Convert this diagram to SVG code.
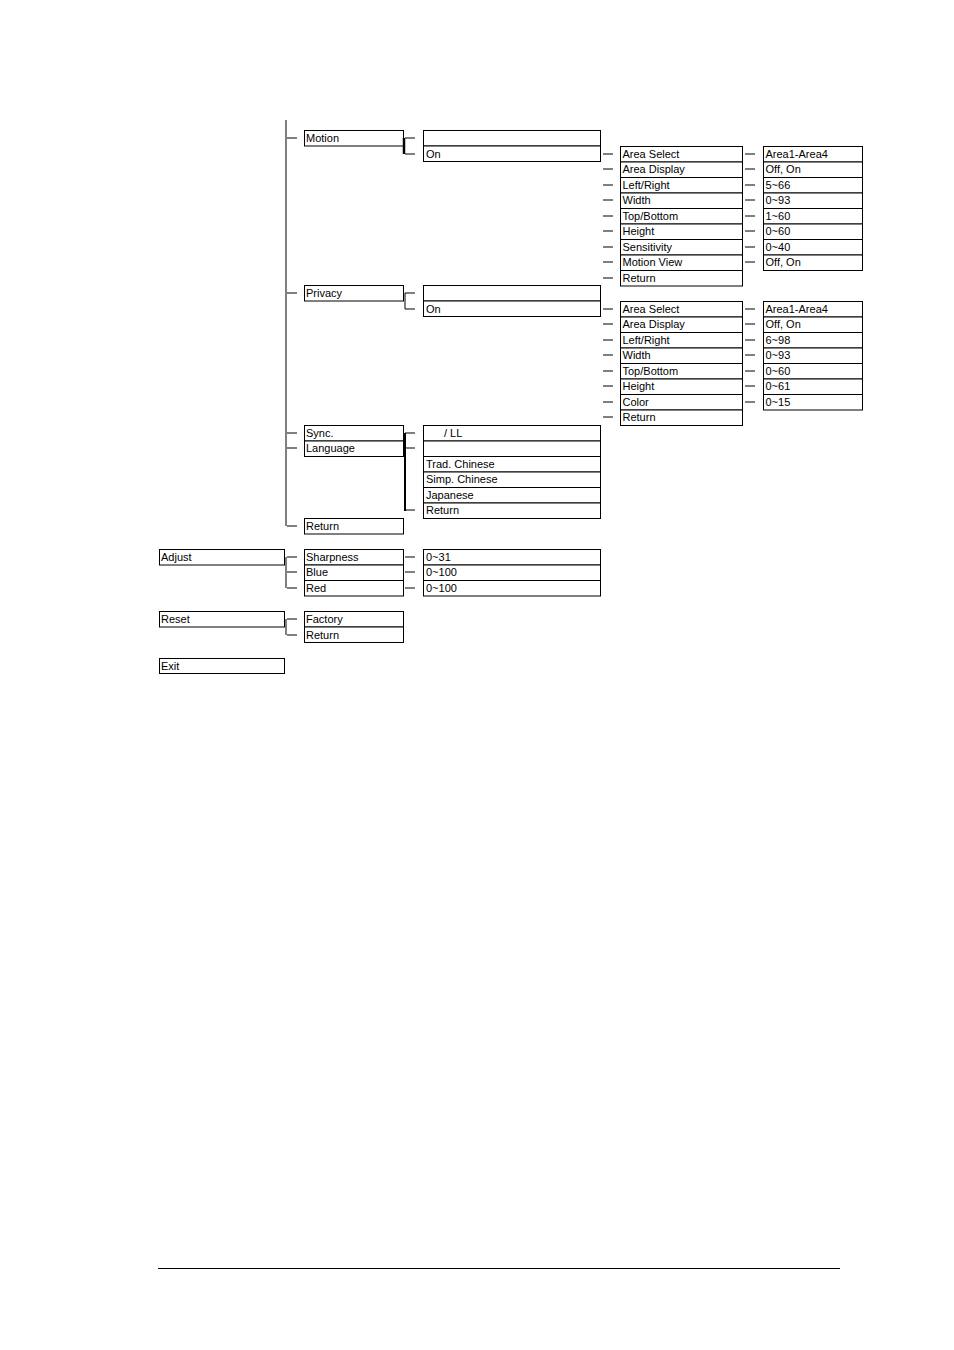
<svg xmlns="http://www.w3.org/2000/svg" width="954" height="1350" viewBox="0 0 954 1350">
<style>
rect{fill:#fff;stroke:#000;stroke-width:1}
text{font-family:"Liberation Sans",Arial,sans-serif;font-size:11px;fill:#000}
line,path{stroke:#000;stroke-width:1;fill:none}
</style>
<rect x="0" y="0" width="954" height="1350" style="stroke:none"/>
<g id="c1">
<rect x="159.5" y="549.5" width="125" height="15.5"/><text x="161" y="561">Adjust</text>
<rect x="159.5" y="611.5" width="125" height="15.5"/><text x="161" y="623">Reset</text>
<rect x="159.5" y="658.5" width="125" height="15"/><text x="161" y="670">Exit</text>
</g>
<g id="c2">
<rect x="304.5" y="130.5" width="99" height="15.5"/><text x="306" y="142">Motion</text>
<rect x="304.5" y="285.5" width="99" height="15.5"/><text x="306" y="297">Privacy</text>
<rect x="304.5" y="425.5" width="99" height="15.5"/><text x="306" y="437">Sync.</text>
<rect x="304.5" y="441" width="99" height="15.5"/><text x="306" y="452">Language</text>
<rect x="304.5" y="518.5" width="99" height="15.5"/><text x="306" y="530">Return</text>
<rect x="304.5" y="549.5" width="99" height="15.5"/><text x="306" y="561">Sharpness</text>
<rect x="304.5" y="565" width="99" height="15.5"/><text x="306" y="576">Blue</text>
<rect x="304.5" y="580.5" width="99" height="15.5"/><text x="306" y="592">Red</text>
<rect x="304.5" y="611.5" width="99" height="15.5"/><text x="306" y="623">Factory</text>
<rect x="304.5" y="627" width="99" height="15.5"/><text x="306" y="639">Return</text>
</g>
<g id="c3">
<rect x="423.5" y="130.5" width="177" height="15.5"/>
<rect x="423.5" y="146" width="177" height="15.5"/><text x="426" y="158">On</text>
<rect x="423.5" y="285.5" width="177" height="15.5"/>
<rect x="423.5" y="301" width="177" height="15.5"/><text x="426" y="313">On</text>
<rect x="423.5" y="425.5" width="177" height="15.5"/><text x="444" y="437">/  LL</text>
<rect x="423.5" y="441" width="177" height="15.5"/>
<rect x="423.5" y="456.5" width="177" height="15.5"/><text x="426" y="468">Trad. Chinese</text>
<rect x="423.5" y="472" width="177" height="15.5"/><text x="426" y="483">Simp. Chinese</text>
<rect x="423.5" y="487.5" width="177" height="15.5"/><text x="426" y="499">Japanese</text>
<rect x="423.5" y="503" width="177" height="15.5"/><text x="426" y="514">Return</text>
<rect x="423.5" y="549.5" width="177" height="15.5"/><text x="426" y="561">0~31</text>
<rect x="423.5" y="565" width="177" height="15.5"/><text x="426" y="576">0~100</text>
<rect x="423.5" y="580.5" width="177" height="15.5"/><text x="426" y="592">0~100</text>
</g>
<g id="c4" transform="translate(620.5,0)">
<rect y="146.5" width="122" height="15.5"/><text x="2" y="158">Area Select</text>
<rect y="162" width="122" height="15.5"/><text x="2" y="173">Area Display</text>
<rect y="177.5" width="122" height="15.5"/><text x="2" y="189">Left/Right</text>
<rect y="193" width="122" height="15.5"/><text x="2" y="204">Width</text>
<rect y="208.5" width="122" height="15.5"/><text x="2" y="220">Top/Bottom</text>
<rect y="224" width="122" height="15.5"/><text x="2" y="235">Height</text>
<rect y="239.5" width="122" height="15.5"/><text x="2" y="251">Sensitivity</text>
<rect y="255" width="122" height="15.5"/><text x="2" y="266">Motion View</text>
<rect y="270.5" width="122" height="15.5"/><text x="2" y="282">Return</text>
<rect y="301.5" width="122" height="15.5"/><text x="2" y="313">Area Select</text>
<rect y="317" width="122" height="15.5"/><text x="2" y="328">Area Display</text>
<rect y="332.5" width="122" height="15.5"/><text x="2" y="344">Left/Right</text>
<rect y="348" width="122" height="15.5"/><text x="2" y="359">Width</text>
<rect y="363.5" width="122" height="15.5"/><text x="2" y="375">Top/Bottom</text>
<rect y="379" width="122" height="15.5"/><text x="2" y="390">Height</text>
<rect y="394.5" width="122" height="15.5"/><text x="2" y="406">Color</text>
<rect y="410" width="122" height="15.5"/><text x="2" y="421">Return</text>
</g>
<g id="c5" transform="translate(763.5,0)">
<rect y="146.5" width="99" height="15.5"/><text x="2" y="158">Area1-Area4</text>
<rect y="162" width="99" height="15.5"/><text x="2" y="173">Off, On</text>
<rect y="177.5" width="99" height="15.5"/><text x="2" y="189">5~66</text>
<rect y="193" width="99" height="15.5"/><text x="2" y="204">0~93</text>
<rect y="208.5" width="99" height="15.5"/><text x="2" y="220">1~60</text>
<rect y="224" width="99" height="15.5"/><text x="2" y="235">0~60</text>
<rect y="239.5" width="99" height="15.5"/><text x="2" y="251">0~40</text>
<rect y="255" width="99" height="15.5"/><text x="2" y="266">Off, On</text>
<rect y="301.5" width="99" height="15.5"/><text x="2" y="313">Area1-Area4</text>
<rect y="317" width="99" height="15.5"/><text x="2" y="328">Off, On</text>
<rect y="332.5" width="99" height="15.5"/><text x="2" y="344">6~98</text>
<rect y="348" width="99" height="15.5"/><text x="2" y="359">0~93</text>
<rect y="363.5" width="99" height="15.5"/><text x="2" y="375">0~60</text>
<rect y="379" width="99" height="15.5"/><text x="2" y="390">0~61</text>
<rect y="394.5" width="99" height="15.5"/><text x="2" y="406">0~15</text>
</g>
<g id="connectors">
<path d="M286 120V526 M287 138H297 M287 293H297 M287 433H297 M287 448H297 M287 526H297"/>
<path d="M286 557V588 M287 557H297 M287 572H297 M287 588H297"/>
<path d="M286 619V635 M287 619H297 M287 635H297"/>
<path d="M404 138V154" style="stroke-width:2.5"/>
<path d="M405 138H415 M405 154H415"/>
<path d="M405 293V309 M405 293H415 M405 309H415"/>
<path d="M405 433V511" style="stroke-width:2"/>
<path d="M405 433H415 M405 448H415 M405 510H415"/>
<path d="M405 557H415 M405 572H415 M405 588H415"/>
<path d="M603 154H613 M603 169H613 M603 185H613 M603 200H613 M603 216H613 M603 231H613 M603 247H613 M603 262H613 M603 278H613"/>
<path d="M603 309H613 M603 324H613 M603 340H613 M603 355H613 M603 371H613 M603 386H613 M603 402H613 M603 417H613"/>
<path d="M745 154H755 M745 169H755 M745 185H755 M745 200H755 M745 216H755 M745 231H755 M745 247H755 M745 262H755"/>
<path d="M745 309H755 M745 324H755 M745 340H755 M745 355H755 M745 371H755 M745 386H755 M745 402H755"/>
<path d="M158 1268.5H840"/>
</g>
</svg>
